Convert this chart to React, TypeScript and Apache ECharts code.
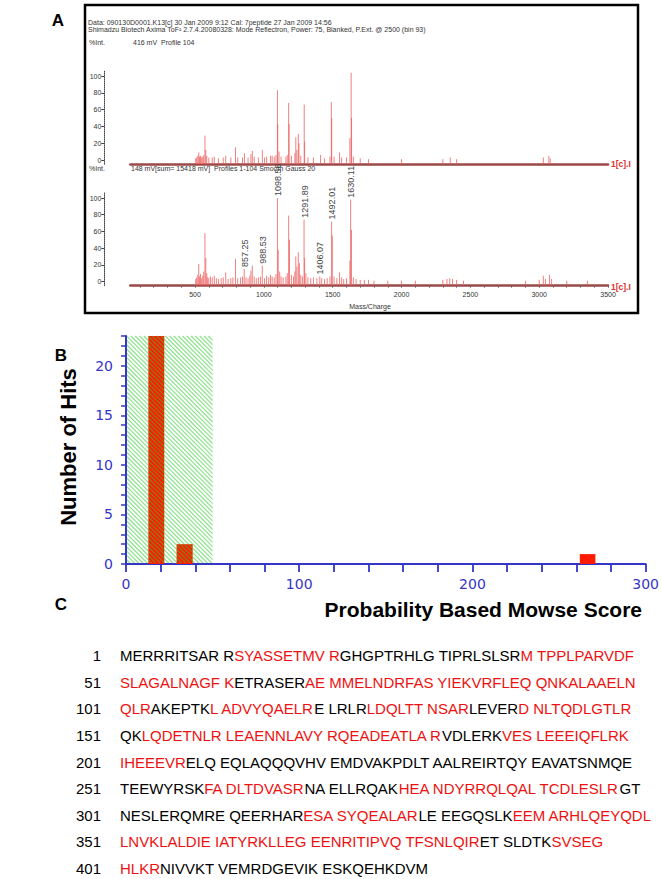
import React, { useEffect, useRef } from "react";
import * as echarts from "echarts";

// ---------- Panel A: MALDI-TOF spectra ----------
const massTicks = [500, 1000, 1500, 2000, 2500, 3000, 3500];
const intensityTicks = [0, 20, 40, 60, 80, 100];

const upperPeakMass = [505, 512, 520, 527, 533, 540, 548, 556, 563, 572, 578, 585, 600, 625, 640, 670, 705, 723, 760, 794, 810, 845, 859, 885, 906, 916, 930, 960, 989, 1005, 1020, 1048, 1060, 1075, 1088, 1098.5, 1101, 1110, 1125, 1160, 1170, 1180, 1183, 1200, 1225, 1232, 1240, 1250, 1255, 1268, 1293, 1296, 1320, 1360, 1412, 1440, 1480, 1490, 1493, 1510, 1550, 1565, 1600, 1625, 1634, 1637, 1650, 1700, 1760, 2000, 2300, 2354, 2400, 3030, 3070, 3080];
const upperPeakInt = [2, 3, 5, 9, 4, 5, 3, 4, 6, 29, 12, 5, 3, 3, 4, 2, 3, 5, 3, 15, 3, 3, 8, 3, 7, 11, 4, 3, 12, 3, 4, 5, 5, 4, 6, 83, 42, 10, 4, 4, 6, 68, 43, 5, 8, 27, 12, 31, 20, 5, 66, 22, 3, 3, 6, 2, 4, 69, 50, 4, 9, 3, 3, 26, 104, 50, 4, 2, 1, 1, 1, 3, 1, 3, 5, 2];

const lowerPeakMass = [505, 512, 520, 527, 533, 540, 548, 556, 563, 572, 578, 585, 592, 600, 612, 625, 640, 655, 670, 690, 705, 723, 740, 760, 775, 794, 810, 830, 845, 870, 885, 898, 906, 916, 930, 945, 960, 975, 1005, 1020, 1035, 1048, 1060, 1075, 1088, 1104, 1115, 1125, 1140, 1160, 1170, 1180, 1186, 1200, 1215, 1225, 1232, 1240, 1250, 1258, 1268, 1280, 1296, 1305, 1320, 1340, 1360, 1385, 1420, 1440, 1460, 1480, 1497, 1510, 1530, 1550, 1565, 1580, 1600, 1625, 1636, 1650, 1670, 1700, 1730, 1760, 1800, 1900, 2000, 2100, 2300, 2330, 2350, 2370, 2400, 2450, 2900, 3000, 3030, 3045, 3075, 3090, 3200, 3350];
const lowerPeakInt = [3, 5, 8, 21, 6, 9, 4, 7, 12, 58, 28, 10, 5, 4, 6, 5, 7, 4, 3, 4, 5, 11, 3, 4, 5, 27, 4, 5, 6, 5, 4, 7, 13, 19, 6, 4, 5, 6, 4, 7, 5, 8, 6, 5, 9, 38, 12, 6, 5, 6, 10, 79, 50, 8, 6, 12, 30, 18, 35, 22, 8, 6, 28, 10, 5, 4, 5, 4, 4, 3, 4, 6, 55, 6, 4, 11, 5, 3, 4, 25, 62, 5, 3, 2, 2, 2, 1, 1, 1, 1, 2, 3, 4, 3, 2, 1, 1, 2, 7, 3, 8, 3, 1, 1];

const annotatedMass = [857.25, 988.53, 1098.56, 1291.89, 1406.07, 1492.01, 1630.11];
const annotatedInt = [15, 19, 100, 74, 6, 72, 98];

// ---------- Panel B: Mowse score histogram ----------
const scoreBinLow = [12.9, 29.2, 262];
const scoreBinHigh = [22.1, 38.5, 271];
const hitCounts = [23, 2, 1];
const thresholdScore = 50;
const hitsMax = 23;
const hitTickLabels = [0, 5, 10, 15, 20];

// ---------- Panel C: sequence coverage ----------
const seqStarts = [1, 51, 101, 151, 201, 251, 301, 351, 401];
const seqSegments: [string, number][][] = [
  [["MERRRITSAR R", 0], ["SYASSETMV R", 1], ["GHGPTRHLG TIPRLSLSR", 0], ["M TPPLPARVDF", 1]],
  [["SLAGALNAGF K", 1], ["ETRASER", 0], ["AE MMELNDRFAS YIEKVRFLEQ QNKALAAELN", 1]],
  [["QLR", 1], ["AKEPTK", 0], ["L ADVYQAELR", 1], ["E LRLR", 0], ["LDQLTT NSAR", 1], ["LEVER", 0], ["D NLTQDLGTLR", 1]],
  [["QK", 0], ["LQDETNLR LEAENNLAVY RQEADEATLA R", 1], ["VDLERK", 0], ["VES LEEEIQFLRK", 1]],
  [["IHEEEVR", 1], ["ELQ EQLAQQQVHV EMDVAKPDLT AALREIRTQY EAVATSNMQE", 0]],
  [["TEEWYRSK", 0], ["FA DLTDVASR", 1], ["NA ELLRQAK", 0], ["HEA NDYRRQLQAL TCDLESLR", 1], ["GT", 0]],
  [["NESLERQMRE QEERHAR", 0], ["ESA SYQEALAR", 1], ["LE EEGQSLK", 0], ["EEM ARHLQEYQDL", 1]],
  [["LNVKLALDIE IATYRKLLEG EENRITIPVQ TFSNLQIR", 1], ["ET SLDTK", 0], ["SVSEG", 1]],
  [["HLKR", 1], ["NIVVKT VEMRDGEVIK ESKQEHKDVM", 0]],
];

const FONT = '"Liberation Sans", Arial, sans-serif';
const BLUE = "#3535c8";
const MASS_MIN = 30;
const MASS_MAX = 3500;

function peakRender(_params: any, api: any) {
  const p0 = api.coord([api.value(0), -4.6]);
  const p1 = api.coord([api.value(0), api.value(1)]);
  return {
    type: "line",
    shape: { x1: p0[0], y1: p0[1], x2: p1[0], y2: p1[1] },
    style: { stroke: "#ee6060", lineWidth: 1, opacity: 0.8 },
  };
}

function buildOption() {
  const upperData = upperPeakMass.map((m, i) => [m, upperPeakInt[i]]);
  const lowerData = lowerPeakMass
    .map((m, i) => [m, lowerPeakInt[i]])
    .concat(annotatedMass.map((m, i) => [m, annotatedInt[i]]));
  const labelData = annotatedMass.map((m, i) => [m, annotatedInt[i]]);
  const binData = scoreBinLow.map((lo, i) => [lo, scoreBinHigh[i], hitCounts[i]]);
  const hundredTicks: number[] = [];
  for (let v = 100; v <= 3500; v += 100) hundredTicks.push(v);
  const hitTicks: number[] = [];
  for (let v = 0; v <= hitsMax; v += 1) hitTicks.push(v);

  const specY = (gi: number) => ({
    gridIndex: gi,
    type: "value",
    min: -5,
    max: 106,
    offset: 26,
    axisLine: { show: true, onZero: false, lineStyle: { color: "#444", width: 1, type: "dotted" } },
    axisTick: { show: true, customValues: intensityTicks, length: 3, lineStyle: { color: "#444" } },
    axisLabel: { customValues: intensityTicks, fontSize: 7, color: "#333", margin: 3, fontFamily: FONT },
    splitLine: { show: false },
  });

  const seqGraphics = seqSegments.map((segs, i) => ({
    type: "text",
    x: 120,
    y: 655.7 + i * 26.6,
    style: {
      text: segs.map(([t, hit]) => `{${hit ? "r" : "k"}|${t}}`).join(""),
      rich: {
        r: { fill: "#ee1111", fontSize: 15, fontFamily: FONT },
        k: { fill: "#000", fontSize: 15, fontFamily: FONT },
      },
      verticalAlign: "middle",
      textVerticalAlign: "middle",
    },
  }));
  const seqNumGraphics = seqStarts.map((n, i) => ({
    type: "text",
    x: 101,
    y: 655.7 + i * 26.6,
    style: {
      text: String(n),
      fill: "#000",
      fontSize: 15,
      fontFamily: FONT,
      align: "right",
      textAlign: "right",
      verticalAlign: "middle",
      textVerticalAlign: "middle",
    },
  }));

  const smallText = (text: string, x: number, y: number, extra: any = {}) => ({
    type: "text",
    x,
    y,
    style: {
      text,
      fill: "#333",
      fontSize: 7,
      fontFamily: FONT,
      verticalAlign: "middle",
      textVerticalAlign: "middle",
      ...extra,
    },
  });

  const panelLetter = (t: string, x: number, y: number) => ({
    type: "text",
    x,
    y,
    style: {
      text: t,
      fill: "#000",
      fontSize: 17,
      fontWeight: "bold",
      fontFamily: FONT,
      align: "center",
      textAlign: "center",
      verticalAlign: "middle",
      textVerticalAlign: "middle",
    },
  });

  const pxPerMass = 0.13767;
  const specLeft = 126.2 + MASS_MIN * pxPerMass;
  const specWidth = (MASS_MAX - MASS_MIN) * pxPerMass;

  const massAxis = (gi: number, labels: boolean) => ({
    gridIndex: gi,
    type: "value",
    min: MASS_MIN,
    max: MASS_MAX,
    axisLine: { onZero: false, lineStyle: { color: "#9c4848", width: 2.5 } },
    axisTick: labels
      ? { show: true, customValues: hundredTicks, length: 2, lineStyle: { color: "#666" } }
      : { show: false },
    axisLabel: labels
      ? {
          show: true,
          customValues: massTicks,
          fontSize: 7,
          color: "#333",
          margin: 5,
          fontFamily: FONT,
          formatter: (v: number) => String(v),
        }
      : { show: false },
    splitLine: { show: false },
  });

  return {
    animation: false,
    backgroundColor: "#fff",
    grid: [
      { left: specLeft, top: 71, width: specWidth, height: 93.2 },
      { left: specLeft, top: 193, width: specWidth, height: 92.7 },
      { left: 126, top: 336, width: 520, height: 228 },
    ],
    xAxis: [
      massAxis(0, false),
      massAxis(1, true),
      {
        gridIndex: 2,
        type: "value",
        min: 0,
        max: 300,
        interval: 100,
        axisLine: { onZero: false, lineStyle: { color: BLUE, width: 2 } },
        axisTick: { show: true, length: 8, lineStyle: { color: BLUE, width: 1.8 } },
        minorTick: { show: true, splitNumber: 5, length: 8, lineStyle: { color: BLUE, width: 1.8 } },
        axisLabel: { color: BLUE, fontSize: 14, fontFamily: "DejaVu Sans", margin: 13 },
        splitLine: { show: false },
      },
    ],
    yAxis: [
      specY(0),
      specY(1),
      {
        gridIndex: 2,
        type: "value",
        min: 0,
        max: hitsMax,
        axisLine: { show: true, onZero: false, lineStyle: { color: BLUE, width: 2 } },
        axisTick: { show: true, customValues: hitTicks, length: 5, lineStyle: { color: BLUE, width: 1.5 } },
        axisLabel: { customValues: hitTickLabels, color: BLUE, fontSize: 14, fontFamily: "DejaVu Sans", margin: 13 },
        splitLine: { show: false },
      },
    ],
    series: [
      { type: "custom", xAxisIndex: 0, yAxisIndex: 0, data: upperData, renderItem: peakRender, silent: true },
      { type: "custom", xAxisIndex: 1, yAxisIndex: 1, data: lowerData, renderItem: peakRender, silent: true },
      {
        type: "custom",
        xAxisIndex: 1,
        yAxisIndex: 1,
        data: labelData,
        clip: false,
        silent: true,
        renderItem: (_p: any, api: any) => {
          const pt = api.coord([api.value(0), api.value(1)]);
          return {
            type: "text",
            x: pt[0] + 0.5,
            y: pt[1] - 2,
            rotation: Math.PI / 2,
            style: {
              text: api.value(0).toFixed(2),
              fill: "#444",
              fontSize: 9,
              fontFamily: FONT,
              align: "left",
              verticalAlign: "middle",
            },
          };
        },
      },
      {
        type: "custom",
        xAxisIndex: 2,
        yAxisIndex: 2,
        data: binData,
        silent: true,
        renderItem: (_p: any, api: any) => {
          const a = api.coord([api.value(0), api.value(2)]);
          const b = api.coord([api.value(1), 0]);
          return {
            type: "rect",
            shape: { x: a[0], y: a[1], width: b[0] - a[0], height: b[1] - a[1] },
            style: { fill: "#ff1a00" },
          };
        },
      },
      {
        type: "custom",
        xAxisIndex: 2,
        yAxisIndex: 2,
        data: [[0, thresholdScore, hitsMax]],
        silent: true,
        renderItem: (_p: any, api: any) => {
          const a = api.coord([api.value(0), api.value(2)]);
          const b = api.coord([api.value(1), 0]);
          const left = a[0] + 1, top = a[1], right = b[0], bottom = b[1] - 1;
          const step = 4.3;
          const children: any[] = [];
          for (let c = top - right; c <= bottom - left; c += step) {
            const xs = Math.max(left, top - c);
            const xe = Math.min(right, bottom - c);
            if (xe <= xs) continue;
            children.push({
              type: "line",
              shape: { x1: xs, y1: xs + c, x2: xe, y2: xe + c },
              style: { stroke: "#30cc30", lineWidth: 1.2, opacity: 0.55 },
            });
          }
          return { type: "group", children };
        },
      },
    ],
    graphic: [
      {
        type: "rect",
        shape: { x: 85, y: 5, width: 553, height: 308 },
        style: { fill: "none", stroke: "#000", lineWidth: 2.5 },
      },
      smallText("Data: 090130D0001.K13[c] 30 Jan 2009 9:12 Cal: 7peptide 27 Jan 2009 14:56", 88, 22.5),
      smallText("Shimadzu Biotech Axima ToF\u00b2 2.7.4.20080328: Mode Reflectron, Power: 75, Blanked, P.Ext. @ 2500 (bin 93)", 88, 29.5),
      smallText("%Int.", 89, 42),
      smallText("416 mV  Profile 104", 133, 42),
      smallText("%Int.", 89, 168.5),
      smallText("148 mV[sum= 15418 mV]  Profiles 1-104 Smooth Gauss 20", 131, 168.5),
      smallText("1[c].I", 611, 164, { fill: "#e03030", fontSize: 8.5, fontWeight: "bold" }),
      smallText("1[c].I", 611, 287, { fill: "#e03030", fontSize: 8.5, fontWeight: "bold" }),
      smallText("Mass/Charge", 370, 306, { align: "center", textAlign: "center" }),
      panelLetter("A", 58, 20),
      panelLetter("B", 61, 355),
      panelLetter("C", 61, 604),
      {
        type: "text",
        x: 68,
        y: 447,
        rotation: Math.PI / 2,
        style: {
          text: "Number of Hits",
          fill: "#000",
          fontSize: 22,
          fontWeight: "bold",
          fontFamily: FONT,
          align: "center",
          textAlign: "center",
          verticalAlign: "middle",
          textVerticalAlign: "middle",
        },
      },
      {
        type: "text",
        x: 642,
        y: 609,
        style: {
          text: "Probability Based Mowse Score",
          fill: "#000",
          fontSize: 21,
          fontWeight: "bold",
          fontFamily: FONT,
          align: "right",
          textAlign: "right",
          verticalAlign: "middle",
          textVerticalAlign: "middle",
        },
      },
      ...seqNumGraphics,
      ...seqGraphics,
    ],
  };
}

export default function App() {
  const ref = useRef<HTMLDivElement>(null);
  useEffect(() => {
    if (!ref.current) return;
    const chart = echarts.init(ref.current, null, { renderer: "svg" });
    chart.setOption(buildOption() as any);
    return () => chart.dispose();
  }, []);
  return (
    <div
      ref={ref}
      style={{ position: "absolute", left: 0, top: 0, width: 662, height: 879, background: "#fff" }}
    />
  );
}
